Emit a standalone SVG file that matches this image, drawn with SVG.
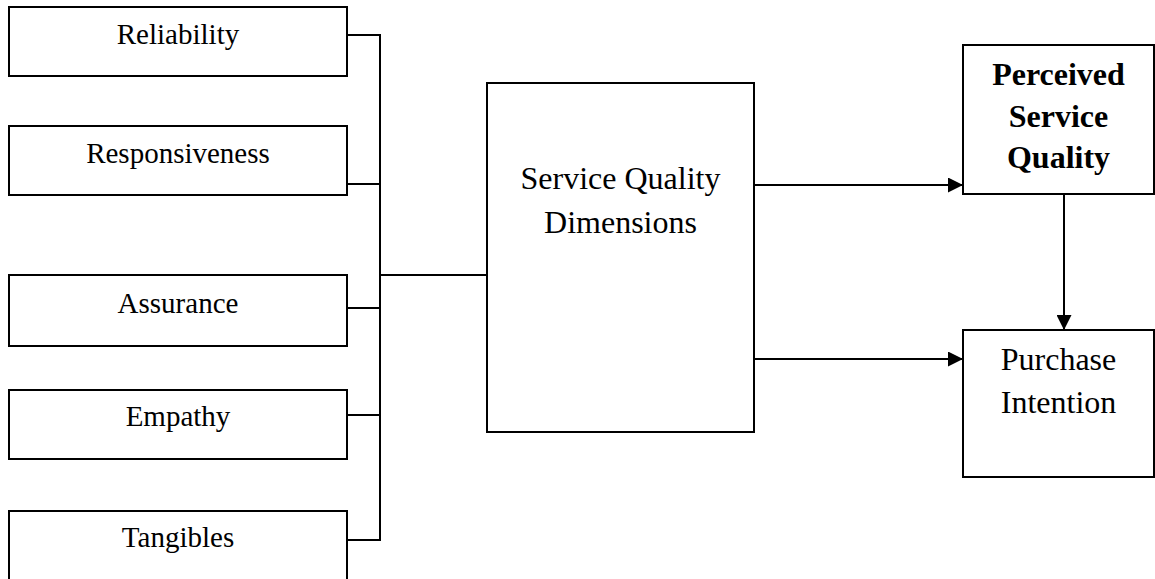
<svg xmlns="http://www.w3.org/2000/svg" width="1155" height="579" viewBox="0 0 1155 579">
  <style>
    .box { fill: #fff; stroke: #000; stroke-width: 2; }
    .lbl { font-family: "Liberation Serif", "Times New Roman", serif; font-size: 29px; fill: #000; text-anchor: middle; }
    .big { font-size: 32px; }
    .bold { font-weight: bold; }
    .wire { fill: none; stroke: #000; stroke-width: 2; }
  </style>
  <defs>
    <marker id="arrow" markerWidth="16" markerHeight="15" refX="15" refY="7.5" orient="auto" markerUnits="userSpaceOnUse">
      <path d="M0,0 L15,7.5 L0,15 Z" fill="#000"/>
    </marker>
  </defs>
  <rect width="1155" height="579" fill="#fff"/>

  <g id="reliability">
    <rect class="box" x="9" y="7" width="338" height="69"/>
    <text class="lbl" x="178" y="44">Reliability</text>
  </g>
  <g id="responsiveness">
    <rect class="box" x="9" y="126" width="338" height="69"/>
    <text class="lbl" x="178" y="163">Responsiveness</text>
  </g>
  <g id="assurance">
    <rect class="box" x="9" y="275" width="338" height="71"/>
    <text class="lbl" x="178" y="313">Assurance</text>
  </g>
  <g id="empathy">
    <rect class="box" x="9" y="390" width="338" height="69"/>
    <text class="lbl" x="178" y="426">Empathy</text>
  </g>
  <g id="tangibles">
    <rect class="box" x="9" y="511" width="338" height="90"/>
    <text class="lbl" x="178" y="547">Tangibles</text>
  </g>

  <g id="service-quality-dimensions">
    <rect class="box" x="487" y="83" width="267" height="349"/>
    <text class="lbl big" x="620.5" y="189">Service Quality</text>
    <text class="lbl big" x="620.5" y="233">Dimensions</text>
  </g>

  <g id="perceived-service-quality">
    <rect class="box" x="963" y="45" width="191" height="149"/>
    <text class="lbl big bold" x="1058.5" y="85">Perceived</text>
    <text class="lbl big bold" x="1058.5" y="127">Service</text>
    <text class="lbl big bold" x="1058.5" y="168">Quality</text>
  </g>

  <g id="purchase-intention">
    <rect class="box" x="963" y="330" width="191" height="147"/>
    <text class="lbl big" x="1058.5" y="370">Purchase</text>
    <text class="lbl big" x="1058.5" y="413">Intention</text>
  </g>

  <g id="connectors">
    <!-- bracket joining the five dimensions -->
    <path class="wire" d="M347,35 H380 V540 H347"/>
    <path class="wire" d="M347,184 H380"/>
    <path class="wire" d="M347,308 H380"/>
    <path class="wire" d="M347,415 H380"/>
    <path class="wire" d="M380,275 H487"/>
    <!-- arrows out of the dimensions block -->
    <path class="wire" d="M754,185 H963" marker-end="url(#arrow)"/>
    <path class="wire" d="M754,359 H963" marker-end="url(#arrow)"/>
    <!-- perceived quality to purchase intention -->
    <path class="wire" d="M1064,194 V330" marker-end="url(#arrow)"/>
  </g>
</svg>
